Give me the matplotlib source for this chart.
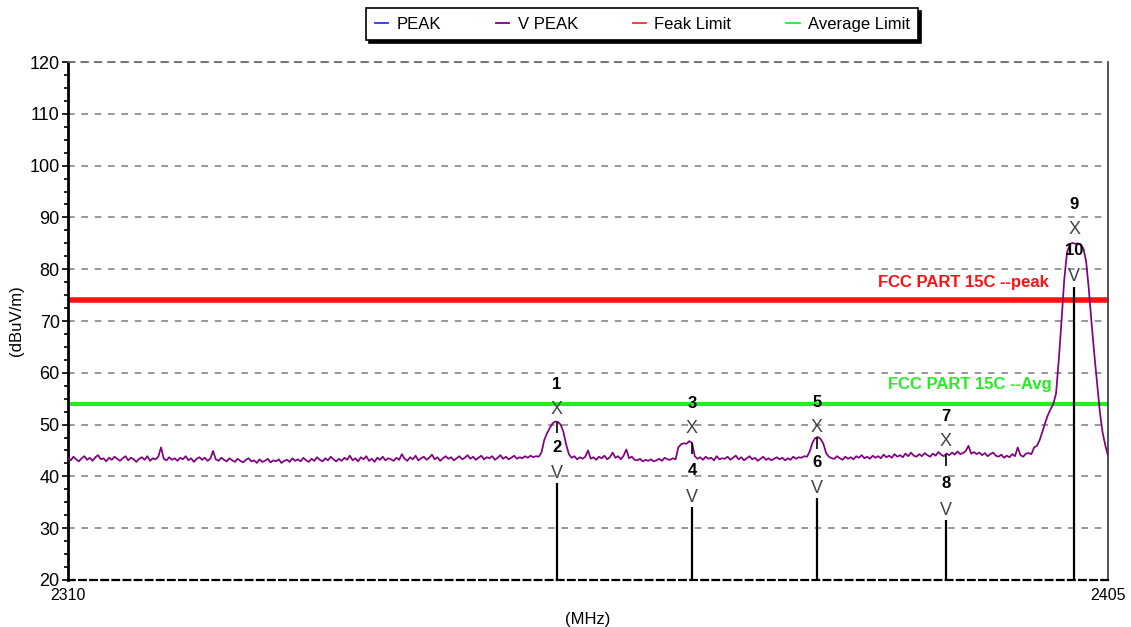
import numpy as np
import matplotlib
matplotlib.use("Agg")
import matplotlib.pyplot as plt
from matplotlib.lines import Line2D
from matplotlib.ticker import MultipleLocator, FixedLocator

plt.rcParams["font.family"] = ["Liberation Sans", "DejaVu Sans"]

# sweep settings (MHz)
F_START, F_STOP, F_STEP = 2310.0, 2405.0, 0.25

# V PEAK trace, dBuV/m, one row per 5 MHz
vpeak = [
    43.6, 43.1, 43.8, 43.3, 42.9, 43.5, 43.9, 43.2, 43.6, 43.0, 43.7, 44.1, 43.3, 43.5, 42.9, 43.6, 43.2, 43.8, 43.4, 43.0,
    43.5, 43.9, 43.1, 43.6, 43.3, 42.8, 43.4, 43.7, 43.2, 43.9, 43.0, 43.5, 43.3, 43.8, 45.6, 43.4, 43.1, 43.7, 43.2, 43.5,
    43.0, 43.6, 43.3, 43.9, 43.1, 43.5, 42.8, 43.4, 43.7, 43.2, 43.6, 43.0, 43.4, 44.9, 43.3, 43.0, 43.6, 43.2, 42.9, 43.5,
    43.1, 42.8, 43.4, 43.0, 42.7, 43.2, 43.5, 42.9, 43.1, 42.6, 43.3, 42.8, 43.0, 43.4, 42.7, 43.1, 42.9, 43.3, 42.6, 43.0,
    43.2, 42.8, 43.5, 43.0, 43.3, 42.9, 43.6, 43.1, 42.8, 43.4, 43.0, 43.7, 43.2, 42.9, 43.5, 43.1, 43.8, 43.3, 42.9, 43.4,
    43.0, 43.6, 43.2, 44.0, 43.1, 43.5, 42.9, 43.7, 43.3, 43.9, 43.0, 43.4, 42.8, 43.6, 43.2, 43.8, 43.1, 43.5, 43.3, 43.0,
    43.6, 43.2, 44.3, 43.4, 43.0, 43.7, 43.3, 44.0, 43.1, 43.5, 43.8, 43.2, 43.6, 44.2, 43.3, 43.7, 43.0, 43.5, 43.9, 43.4,
    43.7, 43.1, 43.5, 43.9, 43.3, 43.6, 44.1, 43.4, 43.8, 43.2, 43.6, 44.0, 43.3, 43.7, 43.5, 43.9, 43.2, 43.6, 44.1, 43.4,
    43.8, 43.3, 43.6, 44.0, 43.4, 43.7, 43.5, 43.9, 43.6, 44.0, 43.7, 43.9, 43.8, 44.6, 47.0, 48.3, 49.3, 50.2, 50.6, 50.5,
    50.0, 48.6, 46.2, 44.3, 43.6, 43.9, 43.3, 43.7, 43.4, 43.8, 45.0, 43.4, 43.7, 43.2, 43.8, 43.5, 44.0, 43.3, 43.7, 44.6,
    43.6, 43.9, 43.3, 44.0, 45.2, 43.5, 43.8, 43.2, 43.1, 43.4, 42.9, 43.2, 43.0, 43.3, 42.9, 43.1, 43.4, 43.0, 43.6, 43.3,
    43.2, 43.5, 43.3, 45.6, 46.2, 46.4, 46.3, 46.8, 46.5, 43.9, 43.4, 43.7, 43.2, 43.8, 43.4, 43.6, 43.1, 43.9, 43.3, 43.5,
    43.4, 43.8, 43.2, 43.6, 44.0, 43.3, 43.7, 43.1, 43.5, 43.9, 43.3, 43.6, 43.0, 43.4, 43.8, 43.2, 43.5, 43.1, 43.4, 43.7,
    43.3, 43.6, 43.1, 43.5, 43.2, 43.8, 43.4, 43.7, 43.6, 43.9, 43.8, 44.8, 46.5, 47.4, 47.6, 47.2, 46.3, 44.5, 43.8, 43.5,
    43.4, 43.9, 43.5, 43.2, 43.8, 43.4, 43.7, 43.3, 43.9, 43.6, 44.1, 43.5, 43.8, 43.4, 44.0, 43.6, 43.9, 43.5, 44.2, 43.7,
    44.0, 43.6, 44.3, 43.8, 44.1, 43.7, 44.4, 43.9, 44.6, 44.0, 43.8, 44.3, 43.9, 44.5, 44.1, 43.8, 44.4, 44.0, 44.7, 44.2,
    43.9, 44.4, 44.1, 44.6, 44.2, 44.8, 44.3, 44.5, 44.9, 45.9, 44.4, 44.7, 44.3, 44.6, 44.1, 44.5, 43.9, 44.3, 44.6, 44.0,
    43.8, 44.2, 43.6, 44.0, 43.7, 44.3, 43.9, 45.6, 44.1, 43.8, 44.4, 44.5, 44.3, 45.6, 45.9, 47.0, 48.6, 50.3, 51.8, 53.0,
    54.0, 56.0, 62.5, 70.0, 78.0, 83.2, 84.8, 85.1, 84.9, 85.0, 84.7, 84.0, 81.5, 76.0, 69.5, 63.5, 58.0, 52.5, 48.5, 46.0,
    44.0,
]

# limit lines
peak_limit = 74.0
avg_limit = 54.0

# markers: odd = peak reading (X), even = average reading (V)
marker_id = ["1", "2", "3", "4", "5", "6", "7", "8", "9", "10"]
marker_freq = [2354.67, 2354.67, 2367.0, 2367.0, 2378.4, 2378.4, 2390.2, 2390.2, 2401.9, 2401.9]
marker_level = [53.0, 38.7, 49.3, 34.1, 49.5, 35.8, 46.8, 31.6, 87.6, 76.6]

freq = F_START + F_STEP * np.arange(len(vpeak))

fig = plt.figure(figsize=(11.31, 6.27), dpi=100)
ax = fig.add_axes([0.0601, 0.075, 0.9196, 0.826])
ax.set_xlim(F_START, F_STOP)
ax.set_ylim(20, 120)

# horizontal dashed grid only
for y in range(30, 121, 10):
    ax.axhline(y, color="#888888", lw=1.2, ls=(0, (4, 4)), zorder=0)

ax.plot(freq, vpeak, color="#800080", lw=1.25, zorder=3)
ax.axhline(peak_limit, color="#ff1010", lw=4, zorder=2)
ax.axhline(avg_limit, color="#22ee22", lw=3, zorder=2)

ax.text(2399.6, peak_limit + 3.4, "FCC PART 15C --peak", color="#ff1010",
        fontsize=12, fontweight="bold", ha="right", va="center")
ax.text(2399.9, avg_limit + 3.8, "FCC PART 15C --Avg", color="#22ee22",
        fontsize=12, fontweight="bold", ha="right", va="center")

# marker annotations
for i, (mid, f, lv) in enumerate(zip(marker_id, marker_freq, marker_level)):
    if i % 2 == 0:
        ax.text(f, lv, "X", color="#444444", fontsize=13, ha="center", va="center", zorder=5)
        tr = np.interp(f, freq, vpeak)
        if i < 8:
            ax.vlines(f, tr - 2.2, tr, color="black", lw=1.2, zorder=4)
    else:
        ax.vlines(f, 20, lv, color="black", lw=1.6, zorder=4)
        ax.annotate("V", (f, lv), xytext=(0, 1), textcoords="offset points",
                    color="#444444", fontsize=13, ha="center", va="bottom", zorder=5)
    off = 18 if i % 2 == 0 else 26
    ax.annotate(mid, (f, lv), xytext=(0, off), textcoords="offset points",
                color="black", fontsize=12, fontweight="bold", ha="center", va="center", zorder=5)

# axes frame
ax.spines["left"].set_linewidth(2)
ax.spines["left"].set_color("black")
ax.spines["bottom"].set_linestyle((0, (3, 2)))
ax.spines["bottom"].set_linewidth(1.6)
ax.spines["top"].set_linestyle((0, (4, 4)))
ax.spines["top"].set_color("#666666")
ax.spines["top"].set_linewidth(1.2)
ax.spines["right"].set_color("#444444")
ax.spines["right"].set_linewidth(1.3)

ax.yaxis.set_major_locator(MultipleLocator(10))
ax.yaxis.set_minor_locator(MultipleLocator(2.5))
ax.tick_params(axis="y", which="major", length=4, width=1.2, pad=2, labelsize=13)
ax.tick_params(axis="y", which="minor", length=3, width=1.2)
ax.xaxis.set_major_locator(FixedLocator([F_START, F_STOP]))
ax.set_xticklabels(["2310", "2405"])
ax.tick_params(axis="x", length=0, pad=6, labelsize=11.5)

ax.set_xlabel("(MHz)", fontsize=12, labelpad=6)
ax.set_ylabel("(dBuV/m)", fontsize=12, labelpad=4)

# legend with thin sample lines
handles = [
    Line2D([], [], color="#3030ff", lw=1.3),
    Line2D([], [], color="#800080", lw=1.3),
    Line2D([], [], color="#ff3030", lw=1.3),
    Line2D([], [], color="#22ee22", lw=1.3),
]
labels = ["PEAK", "V PEAK", "Feak Limit", "Average Limit"]
leg = fig.legend(handles, labels, loc="upper center", bbox_to_anchor=(0.568, 1.0), ncol=4,
                 fontsize=12, handlelength=0.8, handletextpad=0.5, columnspacing=3.3,
                 frameon=True, fancybox=False, edgecolor="black",
                 shadow={"color": "black", "alpha": 1.0}, borderpad=0.5)
leg.get_frame().set_linewidth(1.2)

fig.savefig("out.png", dpi=100)
plt.close(fig)
